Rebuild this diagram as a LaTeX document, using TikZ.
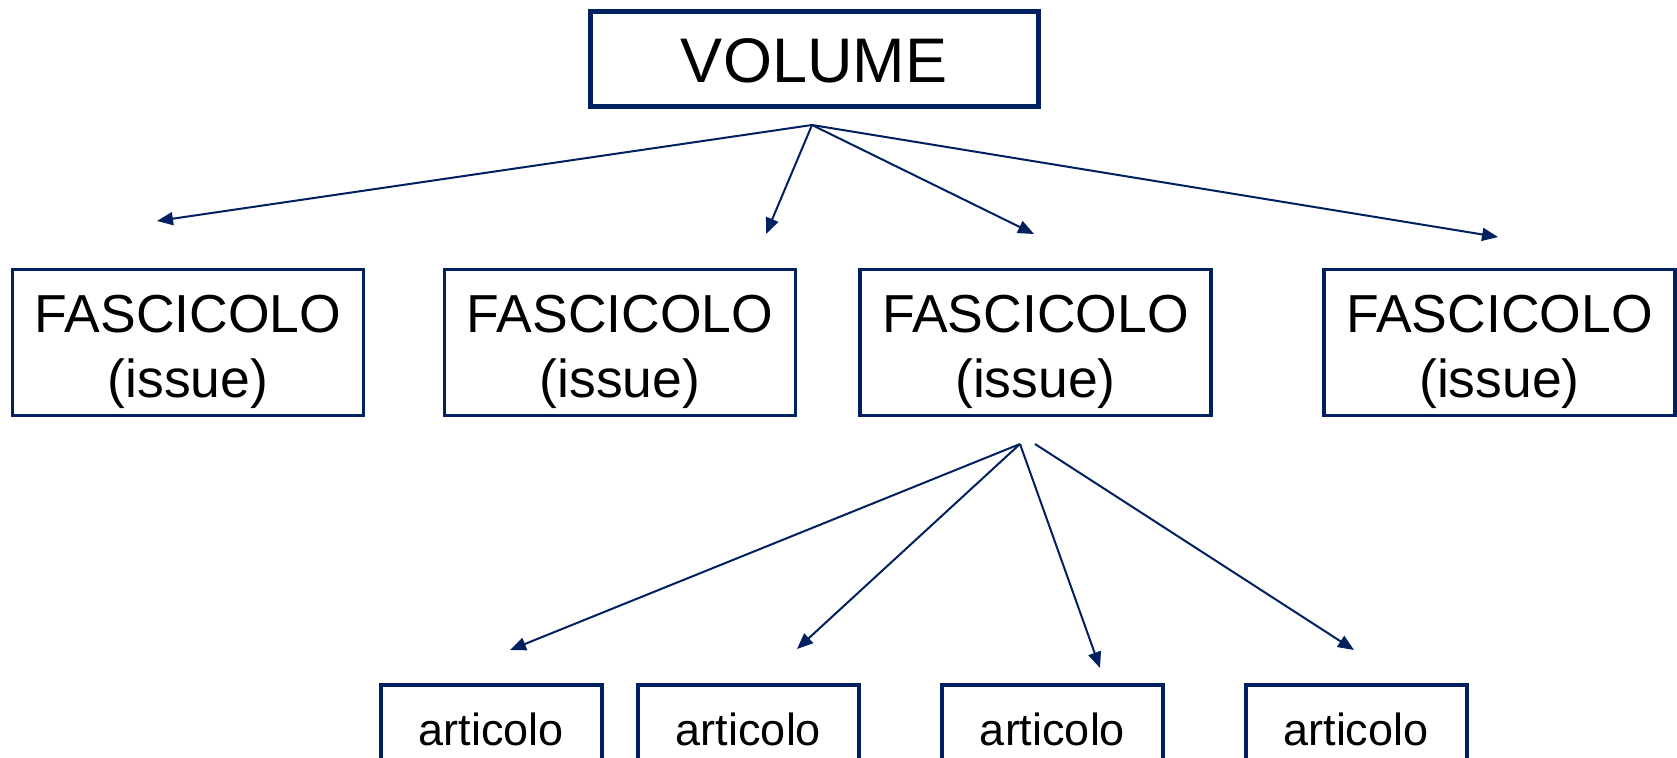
\documentclass[tikz,border=0pt]{standalone}
\usepackage{fontspec}
\setmainfont{Liberation Sans}
\usetikzlibrary{arrows.meta}
\definecolor{navy}{RGB}{0,32,96}
\tikzset{
  box/.style={draw=navy, fill=white, rectangle, inner sep=0pt},
  volbox/.style={box, line width=5pt, minimum width=448pt, minimum height=95pt},
  fascbox/.style={box, line width=3.5pt, minimum width=351pt, minimum height=146pt},
  artbox/.style={box, line width=4pt, minimum width=221pt, minimum height=160pt},
  voltext/.style={font=\fontsize{63}{70}\selectfont, inner sep=0pt, anchor=base},
  fasctext/.style={font=\fontsize{53.5}{60}\selectfont, inner sep=0pt, anchor=base},
  arttext/.style={font=\fontsize{45}{50}\selectfont, inner sep=0pt, anchor=base},
  link/.style={draw=navy, line width=2pt, -{Triangle[length=16pt,width=13pt]}}
}
\begin{document}
\begin{tikzpicture}[x=1pt, y=-1pt]
\useasboundingbox (0,0) rectangle (1677,757);
\clip (0,0) rectangle (1677,757);

% top level
\node[volbox] (vol) at (814.5,59) {};
\node[voltext] (volt) at (814,83) {VOLUME};

% issues
\foreach \n/\x in {1/188, 2/620, 3/1035.5, 4/1499.5} {
  \node[fascbox] (f\n) at (\x,342.5) {};
  \node[fasctext] (f\n a) at (\x,332) {FASCICOLO};
  \node[fasctext] (f\n b) at (\x,397) {(issue)};
}

% articles (boxes run past the lower edge)
\foreach \n/\x in {1/491.5, 2/748.5, 3/1052.5, 4/1356} {
  \node[artbox] (a\n) at (\x,765) {};
  \node[arttext] (a\n t) at (\x,745) {articolo};
}

% branching points and arrow ends
\coordinate (vtop) at (812,125);
\coordinate (v1) at (157,221);
\coordinate (v2) at (766,234);
\coordinate (v3) at (1034,234);
\coordinate (v4) at (1498,237);

\coordinate (ftop) at (1020,444);
\coordinate (ftop2) at (1035,444);
\coordinate (e1) at (510,650);
\coordinate (e2) at (797,649);
\coordinate (e3) at (1100,668);
\coordinate (e4) at (1354,650);

\foreach \t in {v1,v2,v3,v4} \draw[link] (vtop) -- (\t);
\foreach \t in {e1,e2,e3} \draw[link] (ftop) -- (\t);
\draw[link] (ftop2) -- (e4);
\end{tikzpicture}
\end{document}
